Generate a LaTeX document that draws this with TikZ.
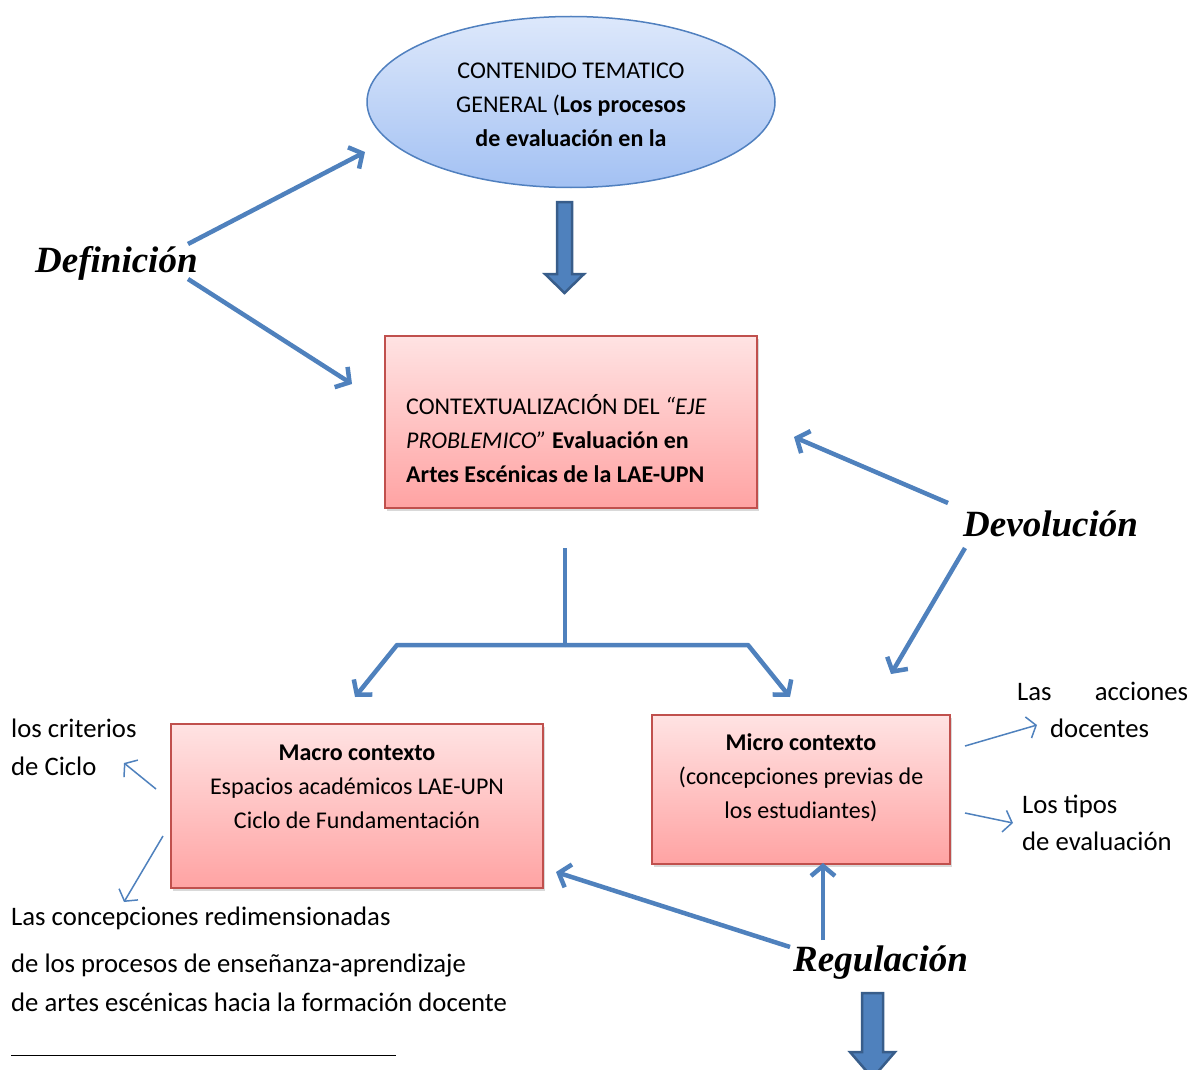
\documentclass[tikz,border=0pt]{standalone}
\usepackage{fontspec}
\setmainfont{Carlito}
\newfontfamily\tnr{Liberation Serif}
\usetikzlibrary{arrows.meta,shapes.geometric,shadows}
\definecolor{ablue}{HTML}{4F81BD}
\definecolor{dblue}{HTML}{385D8A}
\definecolor{bred}{HTML}{C0504D}
\definecolor{ptop}{HTML}{FFE3E3}
\definecolor{pbot}{HTML}{FFA3A3}
\definecolor{btop}{HTML}{DDE8FB}
\definecolor{bbot}{HTML}{A3C1F3}
\definecolor{eborder}{HTML}{5080BF}
\begin{document}
\begin{tikzpicture}[x=1pt,y=-1pt,
 txt/.style={font=\fontsize{26.7}{36}\selectfont, inner sep=0pt, text height=19pt, text depth=6.5pt},
 mtxt/.style={font=\fontsize{24}{34}\selectfont, inner sep=0pt},
 lbl/.style={font=\tnr\bfseries\itshape\fontsize{37}{40}\selectfont, inner sep=0pt},
 pbox/.style={draw=bred, line width=1.3pt, top color=ptop, bottom color=pbot,
   drop shadow={opacity=0.3, shadow xshift=2pt, shadow yshift=-3pt}, inner sep=0pt},
 flow/.style={draw=ablue, line width=4.5pt, line join=round, -{Straight Barb[length=10pt,width=24pt]}},
 thinflow/.style={draw=ablue, line width=1.5pt, -{Straight Barb[length=8pt,width=22pt]}},
 block/.style={fill=ablue, draw=dblue, line width=2.5pt, line join=miter}
]
\useasboundingbox (0,0) rectangle (1194,1070);

% top ellipse
\node[ellipse, draw=eborder, line width=1.5pt, top color=btop, bottom color=bbot,
  minimum width=408pt, minimum height=171pt, inner sep=0pt, mtxt, align=center]
  (gen) at (571,102) {};
\node[mtxt, align=center] (gent) at (571,104.5) {CONTENIDO TEMATICO\\GENERAL (\textbf{Los procesos}\\\textbf{de evaluación en la}};

% block arrow top
\draw[block] (557,202) -- (572,202) -- (572,274) -- (584,274) -- (564.5,293) -- (545,274) -- (557,274) -- cycle;

% context box
\node[pbox, minimum width=372pt, minimum height=172pt] (ctx) at (571,422) {};
\node[mtxt, align=left, anchor=west] (ctxt) at (406,439)
 {CONTEXTUALIZACIÓN DEL \textit{“EJE}\\\textit{PROBLEMICO”} \textbf{Evaluación en}\\\textbf{Artes Escénicas de la LAE-UPN}};

% macro and micro boxes
\node[pbox, minimum width=372pt, minimum height=164pt] (macro) at (357,806) {};
\node[mtxt, align=center] (macrot) at (357,786.5)
 {\textbf{Macro contexto}\\Espacios académicos LAE-UPN\\Ciclo de Fundamentación};
\node[pbox, minimum width=298pt, minimum height=149pt] (micro) at (801,789.5) {};
\node[mtxt, align=center] (microt) at (801,777.5)
 {\textbf{Micro contexto}\\(concepciones previas de\\los estudiantes)};

% labels
\node[lbl, anchor=west] (def) at (35,263) {Definición};
\node[lbl, anchor=west] (dev) at (963,524) {Devolución};
\node[lbl, anchor=west] (reg) at (793,963) {Regulación};

% side texts
\node[txt, anchor=west] (crit1) at (11,731) {los criterios};
\node[txt, anchor=west] (crit2) at (11,769) {de Ciclo};
\node[txt, anchor=west] (acc1) at (1017,694) {\hbox to 171pt{Las\hfill acciones}};
\node[txt, anchor=west] (acc2) at (1050,731) {docentes};
\node[txt, anchor=west] (tip1) at (1022,807) {Los tipos};
\node[txt, anchor=west] (tip2) at (1022,844) {de evaluación};
\node[txt, anchor=west] (con1) at (11,919) {Las concepciones redimensionadas};
\node[txt, anchor=west] (con2) at (11,966) {de los procesos de enseñanza-aprendizaje};
\node[txt, anchor=west] (con3) at (11,1005) {de artes escénicas hacia la formación docente};

% coordinates
\coordinate (d1s) at (188,244); \coordinate (d1e) at (365,152);
\coordinate (d2s) at (188,279); \coordinate (d2e) at (352,384);
\coordinate (v1s) at (948,503); \coordinate (v1e) at (794,437);
\coordinate (v2s) at (965,548); \coordinate (v2e) at (891,674);
\coordinate (tTop) at (565,548); \coordinate (tMid) at (565,645);
\coordinate (tL) at (397,645); \coordinate (tR) at (748,645);
\coordinate (tLe) at (355,697); \coordinate (tRe) at (790,697);
\coordinate (r1s) at (790,947); \coordinate (r1e) at (556,872);
\coordinate (r2s) at (823,940); \coordinate (r2e) at (823,863);
\coordinate (c1s) at (156,789); \coordinate (c1e) at (124,763);
\coordinate (c2s) at (163,836); \coordinate (c2e) at (124,902);
\coordinate (a1s) at (965,746); \coordinate (a1e) at (1037,725);
\coordinate (a2s) at (965,813); \coordinate (a2e) at (1013,823);

% connectors
\draw[flow] (d1s) -- (d1e);
\draw[flow] (d2s) -- (d2e);
\draw[flow] (v1s) -- (v1e);
\draw[flow] (v2s) -- (v2e);
\draw[draw=ablue, line width=4.5pt] (tTop) -- (tMid);
\draw[flow] (tMid) -- (tL) -- (tLe);
\draw[flow] (tMid) -- (tR) -- (tRe);
\draw[flow] (r1s) -- (r1e);
\draw[flow] (r2s) -- (r2e);
\draw[thinflow] (c1s) -- (c1e);
\draw[thinflow] (c2s) -- (c2e);
\draw[thinflow] (a1s) -- (a1e);
\draw[thinflow] (a2s) -- (a2e);

% bottom block arrow
\draw[block] (862,993) -- (883,993) -- (883,1052) -- (895,1052) -- (872.5,1078) -- (850,1052) -- (862,1052) -- cycle;

% footnote rule
\coordinate (fn1) at (11,1055); \coordinate (fn2) at (396,1055);
\draw[black, line width=1pt] (fn1) -- (fn2);
\end{tikzpicture}
\end{document}
